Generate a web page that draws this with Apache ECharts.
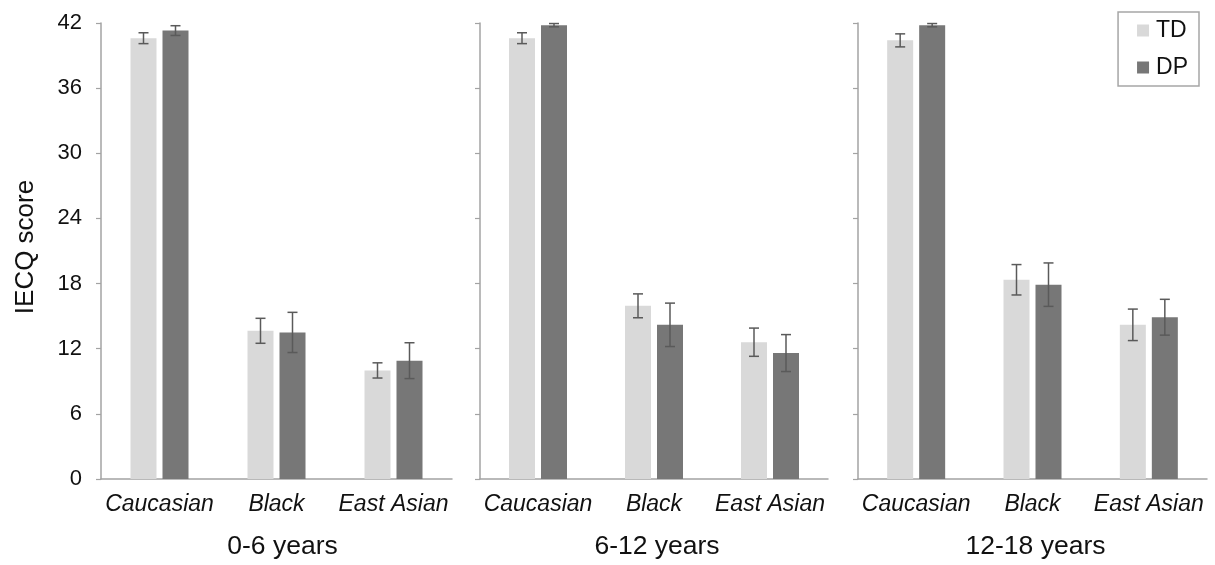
<!DOCTYPE html>
<html>
<head>
<meta charset="utf-8">
<script src="https://cdn.jsdelivr.net/npm/echarts@6/dist/echarts.min.js"></script>
<style>
html,body{margin:0;padding:0;background:#fff;}
#chart{width:1215px;height:565px;}
</style>
</head>
<body>
<div id="chart"></div>
<script>
// ---- Data ----
const categories = ['Caucasian', 'Black', 'East Asian'];
const panelNames = ['0-6 years', '6-12 years', '12-18 years'];
const yTicks = [0, 6, 12, 18, 24, 30, 36, 42];

const tdMean_0_6 = [40.6, 13.65, 10.0];
const tdErr_0_6  = [0.5, 1.15, 0.7];
const dpMean_0_6 = [41.3, 13.5, 10.9];
const dpErr_0_6  = [0.45, 1.85, 1.65];

const tdMean_6_12 = [40.6, 15.95, 12.6];
const tdErr_6_12  = [0.5, 1.1, 1.3];
const dpMean_6_12 = [41.8, 14.2, 11.6];
const dpErr_6_12  = [0.15, 2.0, 1.7];

const tdMean_12_18 = [40.4, 18.35, 14.2];
const tdErr_12_18  = [0.6, 1.4, 1.45];
const dpMean_12_18 = [41.8, 17.9, 14.9];
const dpErr_12_18  = [0.15, 2.0, 1.65];

const panels = [
  {td: tdMean_0_6, tdE: tdErr_0_6, dp: dpMean_0_6, dpE: dpErr_0_6},
  {td: tdMean_6_12, tdE: tdErr_6_12, dp: dpMean_6_12, dpE: dpErr_6_12},
  {td: tdMean_12_18, tdE: tdErr_12_18, dp: dpMean_12_18, dpE: dpErr_12_18}
];

// ---- Styles ----
const FONT = 'Liberation Sans, Arial, sans-serif';
const TD_COLOR = '#d9d9d9';
const DP_COLOR = '#777777';
const AXIS_COLOR = '#a3a3a3';
const ERR_COLOR = '#5a5a5a';
const TEXT_COLOR = '#111111';
const BAR_W = 26;
const BAR_GAP_PX = 6;

const grids = [
  {left: 101, width: 351, top: 23, height: 456},
  {left: 480, width: 348, top: 23, height: 456},
  {left: 858, width: 349, top: 23, height: 456}
];

function errRender(offset) {
  return function (params, api) {
    const xi = api.value(0);
    const lo = api.coord([xi, api.value(1)]);
    const hi = api.coord([xi, api.value(2)]);
    const x = lo[0] + offset;
    const cap = 5;
    const style = {stroke: ERR_COLOR, lineWidth: 1.5};
    return {
      type: 'group',
      children: [
        {type: 'line', shape: {x1: x, y1: lo[1], x2: x, y2: hi[1]}, style: style},
        {type: 'line', shape: {x1: x - cap, y1: lo[1], x2: x + cap, y2: lo[1]}, style: style},
        {type: 'line', shape: {x1: x - cap, y1: hi[1], x2: x + cap, y2: hi[1]}, style: style}
      ]
    };
  };
}

const xAxes = [], yAxes = [], series = [];
const off = (BAR_W + BAR_GAP_PX) / 2;
panels.forEach((p, i) => {
  xAxes.push({
    type: 'category', gridIndex: i, data: categories,
    axisLine: {lineStyle: {color: AXIS_COLOR, width: 1.5}},
    axisTick: {show: false},
    axisLabel: {fontFamily: FONT, fontSize: 23, fontStyle: 'italic', color: TEXT_COLOR, margin: 14, interval: 0},
    name: panelNames[i], nameLocation: 'middle', nameGap: 54,
    nameTextStyle: {fontFamily: FONT, fontSize: 26.5, color: TEXT_COLOR, padding: i === 0 ? [0, 0, 0, 12] : [0, 0, 0, 6]}
  });
  yAxes.push({
    type: 'value', gridIndex: i, min: yTicks[0], max: yTicks[yTicks.length - 1], interval: 6,
    axisLine: {show: true, lineStyle: {color: AXIS_COLOR, width: 1.5}},
    axisTick: {show: true, length: 5, lineStyle: {color: AXIS_COLOR, width: 1.2}},
    splitLine: {show: false},
    axisLabel: {show: i === 0, fontFamily: FONT, fontSize: 22, color: TEXT_COLOR, margin: 19},
    name: i === 0 ? 'IECQ score' : '', nameLocation: 'middle', nameGap: 62,
    nameTextStyle: {fontFamily: FONT, fontSize: 26, color: TEXT_COLOR, padding: [0, 0, 0, 8]}
  });
  series.push({
    name: 'TD', type: 'bar', xAxisIndex: i, yAxisIndex: i, data: p.td,
    barWidth: BAR_W, barGap: (BAR_GAP_PX / BAR_W * 100) + '%',
    itemStyle: {color: TD_COLOR}, silent: true
  });
  series.push({
    name: 'DP', type: 'bar', xAxisIndex: i, yAxisIndex: i, data: p.dp,
    barWidth: BAR_W, barGap: (BAR_GAP_PX / BAR_W * 100) + '%',
    itemStyle: {color: DP_COLOR}, silent: true
  });
  series.push({
    type: 'custom', xAxisIndex: i, yAxisIndex: i, z: 10, silent: true,
    renderItem: errRender(-off),
    data: p.td.map((v, k) => [k, v - p.tdE[k], v + p.tdE[k]])
  });
  series.push({
    type: 'custom', xAxisIndex: i, yAxisIndex: i, z: 10, silent: true,
    renderItem: errRender(off),
    data: p.dp.map((v, k) => [k, v - p.dpE[k], v + p.dpE[k]])
  });
});

const chart = echarts.init(document.getElementById('chart'), null, {renderer: 'canvas'});
chart.setOption({
  animation: false,
  backgroundColor: '#ffffff',
  grid: grids,
  xAxis: xAxes,
  yAxis: yAxes,
  legend: {
    data: ['TD', 'DP'], orient: 'vertical', top: 12, right: 16,
    padding: [7, 11, 7, 19], itemGap: 14,
    borderColor: '#a6a6a6', borderWidth: 1.5,
    icon: 'rect', itemWidth: 12, itemHeight: 12,
    textStyle: {fontFamily: FONT, fontSize: 23, color: TEXT_COLOR, padding: [0, 0, 0, 2]}
  },
  series: series
});
</script>
</body>
</html>
